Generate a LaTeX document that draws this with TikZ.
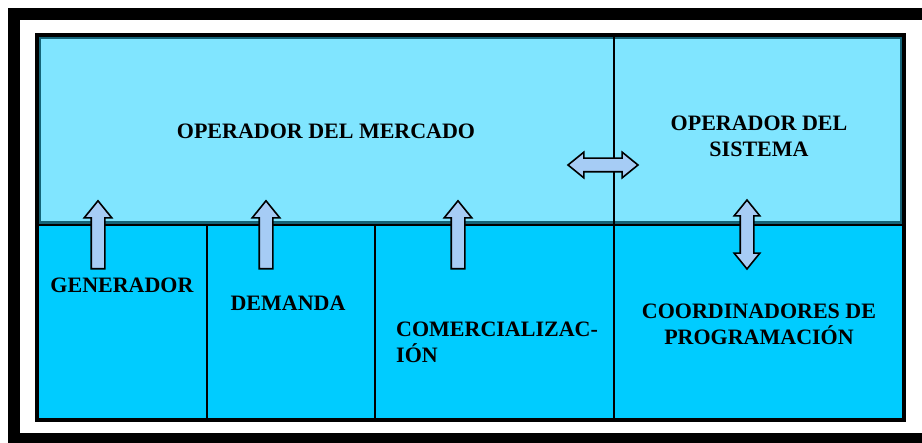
\documentclass[tikz,border=0pt]{standalone}
\usepackage{fontspec}
\setmainfont{Liberation Serif}
\usetikzlibrary{shapes.arrows}
\definecolor{topcyan}{RGB}{128,229,255}
\definecolor{lowcyan}{RGB}{0,204,255}
\definecolor{edgeteal}{RGB}{20,100,120}
\definecolor{arrblue}{RGB}{166,204,245}

\begin{document}
\begin{tikzpicture}[x=1pt, y=-1pt,
    lbl/.style={font=\fontsize{22}{26}\selectfont\bfseries, inner sep=0pt},
    uparr/.style={single arrow, draw=black, fill=arrblue, line width=1.6pt,
      rotate=90, minimum height=68pt, minimum width=0pt, inner xsep=0pt,
      inner ysep=6pt, single arrow head extend=7pt, single arrow tip angle=78},
    dblarr/.style={double arrow, draw=black, fill=arrblue, line width=1.6pt,
      minimum height=70pt, minimum width=0pt, inner xsep=0pt,
      inner ysep=6pt, double arrow head extend=6pt, double arrow tip angle=78},
  ]
  \useasboundingbox (0,0) rectangle (922,443);
  \clip (0,0) rectangle (922,443);
  \coordinate (tl) at (37,35);
  \coordinate (br) at (904,420);
  \coordinate (ml) at (37,225);
  \coordinate (mr) at (904,225);

  % outer frame
  \draw[line width=12pt] (14,14) rectangle (935,439);

  % upper and lower bands
  \fill[topcyan] (tl) rectangle (mr);
  \draw[edgeteal, line width=4pt] (39,37) rectangle (902,223);
  \fill[lowcyan] (ml) rectangle (br);
  \draw[line width=2.5pt] (ml) -- (mr);
  \draw[line width=2.5pt] (614,35) -- (614,420);
  \draw[line width=2.5pt] (207,225) -- (207,420);
  \draw[line width=2.5pt] (375,225) -- (375,420);
  \draw[line width=4.5pt] (tl) rectangle (br);

  \node[lbl, anchor=base] (om) at (326,139) {OPERADOR DEL MERCADO};
  \node[lbl, align=center] (os) at (759,136) {OPERADOR DEL\\SISTEMA};
  \node[lbl, anchor=base] (gen) at (122,293) {GENERADOR};
  \node[lbl, anchor=base] (dem) at (288,311) {DEMANDA};
  \node[lbl, align=left, anchor=west] (com) at (396,342) {COMERCIALIZAC-\\IÓN};
  \node[lbl, align=center] (coo) at (759,324) {COORDINADORES DE\\PROGRAMACIÓN};

  %\foreach \x in {98, 266, 458} \fill[red] (\x,239) circle (2pt);
  \node[uparr] (a1) at (98,239) {};
  \node[uparr] (a2) at (266,239) {};
  \node[uparr] (a3) at (458,239) {};
  \node[dblarr] (a4) at (603,165) {};
  \node[dblarr, rotate=90, minimum height=69pt] (a5) at (747,234.5) {};
\end{tikzpicture}
\end{document}
